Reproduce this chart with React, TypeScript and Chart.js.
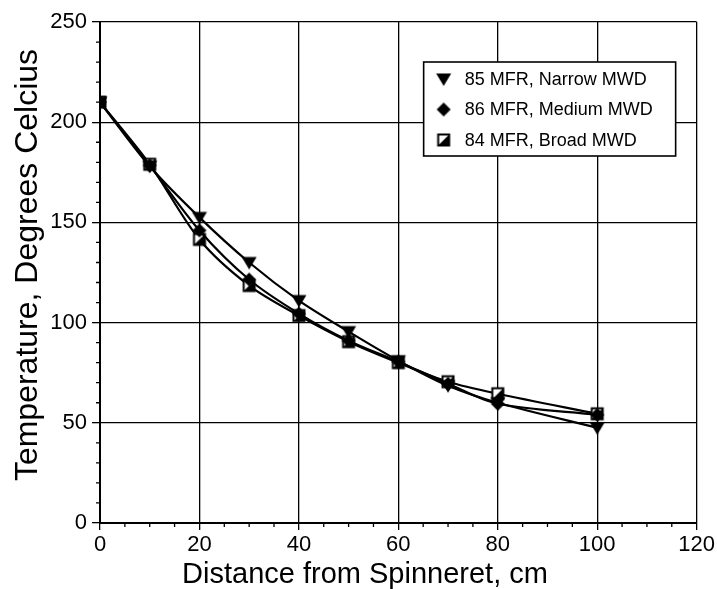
import React, { useEffect, useRef } from 'react';
import { Chart, registerables } from 'chart.js';

Chart.register(...registerables);

// ---- Data ----
const distances = [0, 10, 20, 30, 40, 50, 60, 70, 80, 100];
const narrowMWD = [210, 178, 152.5, 130, 111, 95.5, 81, 68.5, 60, 47.5];
const mediumMWD = [210, 178.5, 146, 121.5, 104.5, 91, 80.5, 69.5, 59.5, 54];
const broadMWD = [210, 179, 141.5, 118.5, 103.5, 90.5, 80, 70.5, 64.5, 54.5];
const seriesLabels = ['85 MFR, Narrow MWD', '86 MFR, Medium MWD', '84 MFR, Broad MWD'];
const xTitle = 'Distance from Spinneret, cm';
const yTitle = 'Temperature, Degrees Celcius';
const xMin = 0, xMax = 120, xStep = 20, xMinorStep = 5;
const yMin = 0, yMax = 250, yStep = 50, yMinorStep = 10;

const FONT = '"Liberation Sans", Arial, Helvetica, sans-serif';

function makeMarker(kind: string): HTMLCanvasElement {
  const c = document.createElement('canvas');
  c.width = 18; c.height = 18;
  const g = c.getContext('2d')!;
  g.fillStyle = '#000';
  g.strokeStyle = '#000';
  if (kind === 'tri') {
    g.beginPath();
    g.moveTo(1.5, 3.5); g.lineTo(16.5, 3.5); g.lineTo(9, 16); g.closePath(); g.fill();
  } else if (kind === 'dia') {
    g.beginPath();
    g.moveTo(9, 2); g.lineTo(16, 9); g.lineTo(9, 16); g.lineTo(2, 9); g.closePath(); g.fill();
  } else {
    g.fillStyle = '#fff';
    g.fillRect(3.5, 3.5, 11, 11);
    g.fillStyle = '#000';
    g.beginPath();
    g.moveTo(3.5, 14.5); g.lineTo(14.5, 3.5); g.lineTo(14.5, 14.5); g.closePath(); g.fill();
    g.lineWidth = 2;
    g.strokeRect(3.5, 3.5, 11, 11);
  }
  return c;
}

export default function App() {
  const ref = useRef<HTMLCanvasElement | null>(null);

  useEffect(() => {
    const canvas = ref.current!;
    const markers = [makeMarker('tri'), makeMarker('dia'), makeMarker('sq')];
    const series = [narrowMWD, mediumMWD, broadMWD];

    const minorTicks = {
      id: 'minorTicks',
      afterDraw(chart: any) {
        const { ctx, chartArea } = chart;
        const xs = chart.scales.x, ys = chart.scales.y;
        ctx.save();
        ctx.strokeStyle = '#000';
        ctx.lineWidth = 1.3;
        ctx.beginPath();
        for (let v = xMin; v <= xMax; v += xMinorStep) {
          if (v % xStep === 0) continue;
          const px = xs.getPixelForValue(v);
          ctx.moveTo(px, chartArea.bottom);
          ctx.lineTo(px, chartArea.bottom + 4);
        }
        for (let v = yMin; v <= yMax; v += yMinorStep) {
          if (v % yStep === 0) continue;
          const py = ys.getPixelForValue(v);
          ctx.moveTo(chartArea.left, py);
          ctx.lineTo(chartArea.left - 4, py);
        }
        ctx.stroke();
        ctx.restore();
      },
    };

    const titles = {
      id: 'titles',
      afterDraw(chart: any) {
        const { ctx, chartArea } = chart;
        ctx.save();
        ctx.fillStyle = '#000';
        ctx.textBaseline = 'alphabetic';
        ctx.textAlign = 'center';
        ctx.font = `29px ${FONT}`;
        ctx.fillText(xTitle, chartArea.left + 265, chartArea.bottom + 60);
        ctx.translate(chartArea.left - 63, chartArea.top + 243);
        ctx.rotate(-Math.PI / 2);
        ctx.font = `32px ${FONT}`;
        ctx.fillText(yTitle, 0, 0);
        ctx.restore();
      },
    };

    const legendBox = {
      id: 'legendBox',
      afterDraw(chart: any) {
        const { ctx, chartArea } = chart;
        const right = chartArea.right - 21;
        const top = chartArea.top + 40;
        const w = 252, h = 94;
        const left = right - w;
        ctx.save();
        ctx.fillStyle = '#fff';
        ctx.fillRect(left, top, w, h);
        ctx.strokeStyle = '#000';
        ctx.lineWidth = 1.6;
        ctx.strokeRect(left, top, w, h);
        ctx.font = `18px ${FONT}`;
        ctx.fillStyle = '#000';
        ctx.textBaseline = 'middle';
        ctx.textAlign = 'left';
        seriesLabels.forEach((lab, i) => {
          const cy = top + 17 + i * 30.5;
          ctx.drawImage(markers[i], left + 11, cy - 9);
          ctx.fillText(lab, left + 41, cy + 1);
        });
        ctx.restore();
      },
    };

    const chart = new Chart(canvas, {
      type: 'line',
      data: {
        datasets: series.map((s, i) => ({
          label: seriesLabels[i],
          data: distances.map((x, j) => ({ x, y: s[j] })),
          borderColor: '#000',
          backgroundColor: '#000',
          borderWidth: 2.2,
          tension: 0.3,
          pointStyle: markers[i] as any,
          pointRadius: 9,
          fill: false,
        })),
      },
      options: {
        animation: false,
        responsive: false,
        maintainAspectRatio: false,
        layout: { padding: { top: 22, right: 20, left: 0, bottom: 0 } },
        plugins: { legend: { display: false }, tooltip: { enabled: false } },
        scales: {
          x: {
            type: 'linear',
            min: xMin,
            max: xMax,
            ticks: { stepSize: xStep, color: '#000', font: { family: FONT, size: 22 }, padding: 2, maxRotation: 0 },
            grid: { color: '#000', lineWidth: 1.3, tickLength: 7, tickColor: '#000' },
            border: { color: '#000', width: 2 },
            afterFit: (s: any) => { s.height = 66; },
          },
          y: {
            type: 'linear',
            min: yMin,
            max: yMax,
            ticks: { stepSize: yStep, color: '#000', font: { family: FONT, size: 22 }, padding: 5 },
            grid: { color: '#000', lineWidth: 1.3, tickLength: 8, tickColor: '#000' },
            border: { color: '#000', width: 2 },
            afterFit: (s: any) => { s.width = 100; },
          },
        },
      },
      plugins: [minorTicks, titles, legendBox],
    });
    return () => chart.destroy();
  }, []);

  return (
    <div style={{ position: 'fixed', left: 0, top: 0, width: 717, height: 589, background: '#fff' }}>
      <canvas ref={ref} width={717} height={589} />
    </div>
  );
}
